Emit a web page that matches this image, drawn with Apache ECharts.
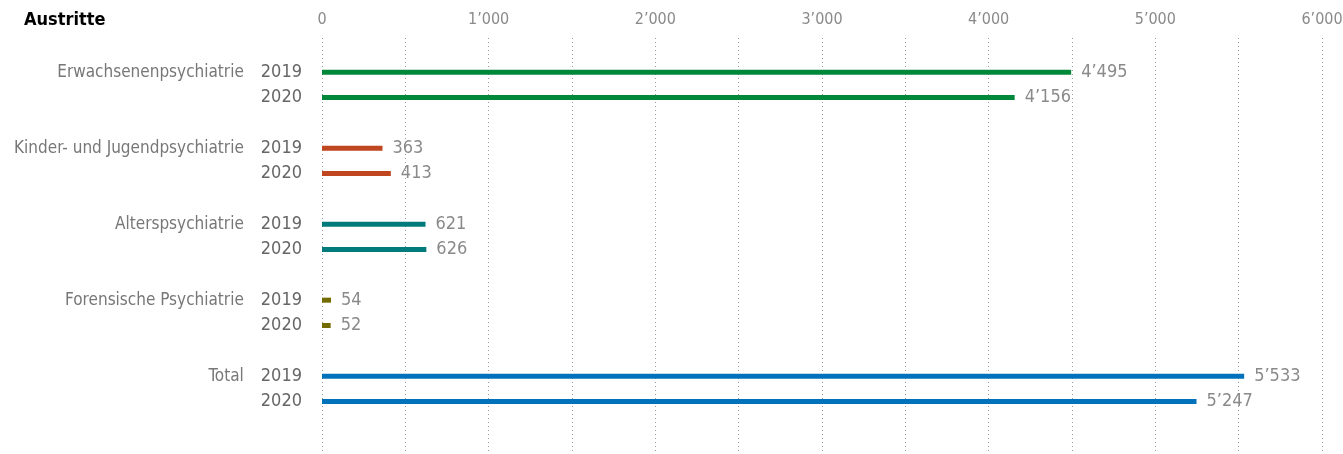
<!DOCTYPE html>
<html>
<head>
<meta charset="utf-8">
<title>Austritte</title>
<script src="https://cdn.jsdelivr.net/npm/echarts@6/dist/echarts.min.js"></script>
<style>
  html, body { margin: 0; padding: 0; background: #fff; }
  #chart { width: 1343px; height: 454px; }
</style>
</head>
<body>
<div id="chart"></div>
<script>
// Austritte nach Bereich, 2019 und 2020
const categories = ['Erwachsenenpsychiatrie', 'Kinder- und Jugendpsychiatrie', 'Alterspsychiatrie', 'Forensische Psychiatrie', 'Total'];
const years = ['2019', '2020'];
const values2019 = [4495, 363, 621, 54, 5533];
const values2020 = [4156, 413, 626, 52, 5247];
const tickValues = [0, 1000, 2000, 3000, 4000, 5000, 6000];

const barColors = ['#00883a', '#c0461f', '#007a7a', '#736a00', '#0072bc'];
const FONT = "'Liberation Sans Narrow', 'DejaVu Sans Condensed', 'Roboto Condensed', sans-serif";

// thousands separator with typographic apostrophe
function fmt(v) {
  return String(Math.round(v)).replace(/\B(?=(\d{3})+(?!\d))/g, '\u2019');
}

// three slots per group: 2019, 2020, spacer
const slots = [];
const barData = [];
categories.forEach((cat, i) => {
  [values2019[i], values2020[i]].forEach((v, j) => {
    slots.push({ cat: cat, year: years[j], first: j === 0 });
    barData.push({ value: v, itemStyle: { color: barColors[i] } });
  });
  slots.push({ cat: '', year: '', first: false });
  barData.push('-');
});

const chart = echarts.init(document.getElementById('chart'), null, { renderer: 'canvas' });

chart.setOption({
  animation: false,
  backgroundColor: '#ffffff',
  textStyle: { fontFamily: FONT },
  title: {
    text: 'Austritte',
    left: 19,
    top: 6,
    textStyle: { fontFamily: FONT, fontSize: 18, fontWeight: 'bold', color: '#000' }
  },
  grid: [
    { left: 322, right: 21, top: 38, bottom: 1, outerBoundsMode: 'none', containLabel: false },
    { left: 322, right: 21, top: 59.5, height: 380, outerBoundsMode: 'none', containLabel: false }
  ],
  xAxis: [
    {
      gridIndex: 0,
      type: 'value',
      position: 'top',
      min: 0,
      max: 6000,
      interval: 500,
      axisLine: { show: false },
      axisTick: { show: false },
      axisLabel: {
        margin: 10,
        color: '#8a8a8a',
        fontFamily: FONT,
        fontSize: 16,
        formatter: v => tickValues.indexOf(v) >= 0 ? fmt(v) : ''
      },
      splitLine: { show: true, lineStyle: { color: '#9a9a9a', type: [1, 3], width: 1 } }
    },
    {
      gridIndex: 1,
      type: 'value',
      min: 0,
      max: 6000,
      show: false
    }
  ],
  yAxis: [
    {
      gridIndex: 0,
      type: 'value',
      show: false
    },
    {
      gridIndex: 1,
      type: 'category',
      inverse: true,
      data: slots.map((s, k) => 'r' + k),
      axisLine: { show: false },
      axisTick: { show: false },
      axisLabel: {
        margin: 20,
        interval: 0,
        formatter: (val, idx) => {
          const s = slots[idx];
          if (!s.year) return '';
          return s.first ? '{c|' + s.cat + '}{y|' + s.year + '}' : '{y|' + s.year + '}';
        },
        rich: {
          c: { fontFamily: FONT, fontSize: 17, color: '#777777', padding: [0, 17, 0, 0] },
          y: { fontFamily: FONT, fontSize: 18, color: '#666666' }
        }
      }
    }
  ],
  series: [
    {
      type: 'bar',
      xAxisIndex: 1,
      yAxisIndex: 1,
      data: barData,
      barWidth: 5,
      label: {
        show: true,
        position: 'right',
        distance: 10,
        color: '#8a8a8a',
        fontFamily: FONT,
        fontSize: 18,
        formatter: p => fmt(p.value)
      }
    }
  ]
});
</script>
</body>
</html>
